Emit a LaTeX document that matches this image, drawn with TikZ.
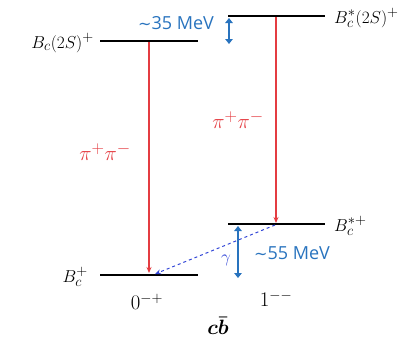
\documentclass[tikz,border=0pt]{standalone}
\usepackage{amsmath}
\usepackage{fontspec}
\newfontfamily\labfont{Open Sans}
\newfontfamily\symfont{DejaVu Sans}
\renewcommand\defaultscriptratio{.78}
\usetikzlibrary{arrows.meta}
\definecolor{tblue}{RGB}{40,115,190}
\definecolor{tred}{RGB}{228,60,65}
\definecolor{dblue}{RGB}{50,70,215}
\begin{document}
\begin{tikzpicture}[x=1pt,y=-1pt,
  level/.style={line width=2.8pt,black},
  decay/.style={tred,line width=1.1pt,-{Stealth[length=6pt,width=5pt]}},
  gap/.style={tblue,line width=2.3pt,{Triangle[length=5pt,width=7.5pt]}-{Triangle[length=5pt,width=7.5pt]}},
  photon/.style={dblue,line width=1pt,dashed,-{Stealth[length=6pt,width=5pt]}},
  statelab/.style={font=\fontsize{18}{20}\selectfont,inner sep=0pt},
  mev/.style={font=\labfont\fontsize{18}{20}\selectfont,text=tblue,inner sep=0pt},
  pilab/.style={font=\fontsize{21}{23}\selectfont,text=tred,inner sep=0pt}]
\useasboundingbox (0,0) rectangle (419,338);
% levels
\coordinate (a1) at (100,41); \coordinate (a2) at (198,41);
\coordinate (b1) at (228,16); \coordinate (b2) at (325,16);
\coordinate (c1) at (228,224); \coordinate (c2) at (325,224);
\coordinate (d1) at (100,275); \coordinate (d2) at (198,275);
\draw[level] (a1) -- (a2);
\draw[level] (b1) -- (b2);
\draw[level] (c1) -- (c2);
\draw[level] (d1) -- (d2);
% labels of states
\node[statelab,anchor=east] (la) at (94,43) {$B_c(2S)^+$};
\node[statelab,anchor=west] (lb) at (334,18) {$B_c^*(2S)^+$};
\node[statelab,anchor=west] (lc) at (334,226) {$B_c^{*+}$};
\node[statelab,anchor=east] (ld) at (88,277) {$B_c^+$};
% transitions
\coordinate (t1s) at (149,42); \coordinate (t1e) at (149,273);
\coordinate (t2s) at (276,17); \coordinate (t2e) at (276,223);
\draw[decay] (t1s) -- (t1e);
\draw[decay] (t2s) -- (t2e);
\node[pilab] (p1) at (105,152) {$\pi^+\pi^-$};
\node[pilab] (p2) at (238,120) {$\pi^+\pi^-$};
\coordinate (gs) at (275,225); \coordinate (ge) at (155,274);
\draw[photon] (gs) -- (ge);
\node[text=dblue,inner sep=0pt,font=\fontsize{18}{20}\selectfont] (gam) at (226,260) {$\gamma$};
% splittings
\coordinate (s1a) at (229,18); \coordinate (s1b) at (229,44);
\draw[gap] (s1a) -- (s1b);
\node[mev] (m1) at (176,23) {{\symfont\fontsize{16}{18}\selectfont ∼}35 MeV};
\coordinate (s2a) at (238,226); \coordinate (s2b) at (238,278);
\draw[gap] (s2a) -- (s2b);
\node[mev] (m2) at (292,253) {{\symfont\fontsize{16}{18}\selectfont ∼}55 MeV};
% quantum numbers
\node[statelab,font=\fontsize{20}{22}\selectfont] (q1) at (147,302) {$0^{-+}$};
\node[statelab,font=\fontsize{20}{22}\selectfont] (q2) at (276,299) {$1^{--}$};
\node[statelab,font=\fontsize{21}{23}\selectfont] (cb) at (218,326) {$\boldsymbol{c\bar b}$};
\end{tikzpicture}
\end{document}
